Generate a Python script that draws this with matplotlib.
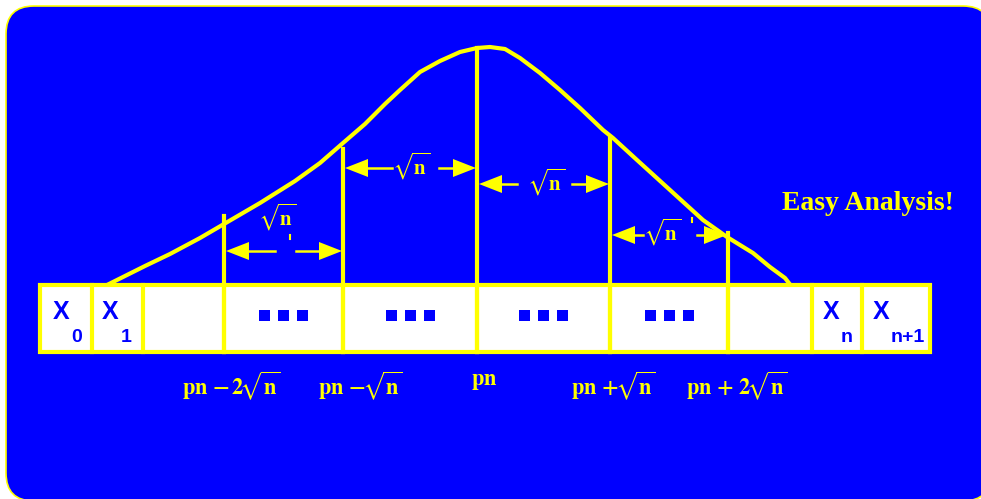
import matplotlib.pyplot as plt
from matplotlib.patches import FancyBboxPatch, Rectangle, Polygon

plt.rcParams['mathtext.fontset'] = 'stix'

YELLOW = '#FFFF00'
BLUE = '#0000FF'

# strip of cells X_0 ... X_{n+1}
cell_edges = [40, 92, 143, 224, 343, 477, 610, 728, 812, 862, 930]
name_x = [61, 110, 831, 881]
name_subs = ['0', '1', 'n', 'n+1']
sub_x = [77, 126, 847, 908]
dot_cells = [3, 4, 5, 6]

# bell curve drawn over the strip
curve_x = [107, 125, 145, 170, 200, 224, 260, 295, 320, 343, 365, 385, 400, 420,
           440, 460, 477, 490, 505, 520, 540, 560, 580, 603, 613, 637, 670, 703,
           727, 753, 770, 785, 792]
curve_y = [285, 276, 266, 254, 238, 224, 203, 181, 163, 143, 124, 104, 90, 72,
           61, 52, 48, 47, 49, 58, 73, 90, 108, 130, 138, 160, 190, 220,
           237, 253, 267, 278, 287]

# marker lines up to the curve
marker_x = [224, 343, 477, 610, 728]
marker_top = [216, 149, 48, 137, 233]

# positions under the strip
pos_labels = [r'$\mathbf{pn}\ \mathbf{{-}\,2}\!\sqrt{\mathbf{n}}$',
              r'$\mathbf{pn}\ \mathbf{{-}}\!\sqrt{\mathbf{n}}$',
              r'$\mathbf{pn}$',
              r'$\mathbf{pn}\ \mathbf{{+}}\!\sqrt{\mathbf{n}}$',
              r'$\mathbf{pn}\ \mathbf{{+}\ 2}\!\sqrt{\mathbf{n}}$']
pos_label_x = [231, 360, 484, 613, 737]
pos_label_y = [386, 386, 382, 386, 386]

# sqrt(n) width arrows between marker lines
arrow_x0 = [226, 345, 479, 612]
arrow_x1 = [342, 476, 609, 727]
arrow_y = [251, 168, 184, 235]
gap_x0 = [275, 392, 517, 643]
gap_x1 = [296, 439, 572, 697]
arrow_text_x = [277, 411, 546, 662]
arrow_text_y = [217, 166, 182, 232]

fig = plt.figure(figsize=(9.81, 4.99), dpi=100)
ax = fig.add_axes([0, 0, 1, 1])
ax.set_xlim(0, 981)
ax.set_ylim(499, 0)
ax.axis('off')

ax.add_patch(FancyBboxPatch((6, 6), 985, 495, boxstyle='round,pad=0,rounding_size=28',
                            fc=BLUE, ec=YELLOW, lw=1.2, zorder=0))

ax.plot(curve_x, curve_y, color=YELLOW, lw=3, solid_capstyle='round', zorder=2)

# cells
ax.add_patch(Rectangle((cell_edges[0], 285), cell_edges[-1] - cell_edges[0], 67,
                       fc='white', ec=YELLOW, lw=3, zorder=3))
for x in cell_edges[1:-1]:
    ax.plot([x, x], [285, 352], color=YELLOW, lw=3, zorder=4)
for x, top in zip(marker_x, marker_top):
    ax.plot([x, x], [top, 352], color=YELLOW, lw=3, zorder=4)

for nx, sub, sx in zip(name_x, name_subs, sub_x):
    ax.text(nx, 312, 'X', color=BLUE, fontsize=18, fontweight='bold',
            family='Liberation Sans', ha='center', va='center', zorder=5)
    ax.text(sx, 337, sub, color=BLUE, fontsize=14, fontweight='bold',
            family='Liberation Sans', ha='center', va='center', zorder=5)

for c in dot_cells:
    mid = (cell_edges[c] + cell_edges[c + 1]) / 2
    for k in (-1, 0, 1):
        ax.add_patch(Rectangle((mid + 19 * k - 5.5, 310), 11, 11, fc=BLUE, ec='none', zorder=5))

for lab, x, y in zip(pos_labels, pos_label_x, pos_label_y):
    ax.text(x, y, lab, color=YELLOW, fontsize=16, ha='center', va='center')

# arrows
for x0, x1, y, g0, g1, tx, ty in zip(arrow_x0, arrow_x1, arrow_y, gap_x0, gap_x1,
                                     arrow_text_x, arrow_text_y):
    hl, hw = 23, 9
    ax.add_patch(Polygon([(x0, y), (x0 + hl, y - hw), (x0 + hl, y + hw)], fc=YELLOW, ec='none', zorder=5))
    ax.add_patch(Polygon([(x1, y), (x1 - hl, y - hw), (x1 - hl, y + hw)], fc=YELLOW, ec='none', zorder=5))
    ax.plot([x0 + hl, g0], [y, y], color=YELLOW, lw=1.8, zorder=5)
    ax.plot([g1, x1 - hl], [y, y], color=YELLOW, lw=1.8, zorder=5)
    ax.text(tx, ty, r'$\sqrt{\mathbf{n}}$', color=YELLOW, fontsize=15, ha='center', va='center')

# stray tick marks next to two of the labels
ax.plot([290, 290], [235, 239], color=YELLOW, lw=1.5)
ax.plot([692, 692], [218, 222], color=YELLOW, lw=1.5)

ax.text(868, 204, 'Easy Analysis!', color=YELLOW, fontsize=20, fontweight='bold',
        family='Liberation Serif', ha='center', va='center')

fig.savefig('out.png', dpi=100, facecolor='white')
